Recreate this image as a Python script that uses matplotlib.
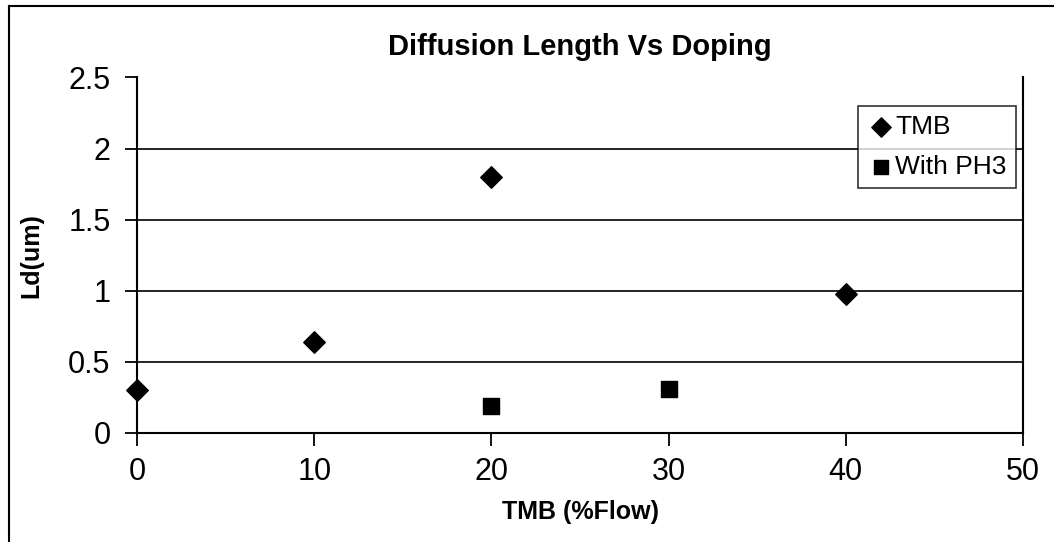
import matplotlib
matplotlib.use("Agg")
import matplotlib.pyplot as plt
from matplotlib.lines import Line2D

plt.rcParams['font.family'] = ['Liberation Sans', 'DejaVu Sans']

tmb_x = [0, 10, 20, 40]
tmb_y = [0.30, 0.64, 1.80, 0.98]
ph3_x = [20, 30]
ph3_y = [0.19, 0.31]

x_ticks = [0, 10, 20, 30, 40, 50]
y_ticks = [0, 0.5, 1, 1.5, 2, 2.5]
y_tick_labels = ['0', '0.5', '1', '1.5', '2', '2.5']

fig = plt.figure(figsize=(10.54, 5.42), dpi=100)
ax = fig.add_axes([137/1054, 1 - 433/542, (1023 - 137)/1054, (433 - 77.5)/542])

ax.scatter(tmb_x, tmb_y, marker='D', s=120, color='black', label='TMB', zorder=3, clip_on=False)
ax.scatter(ph3_x, ph3_y, marker='s', s=130, color='black', label='With PH3', zorder=3, clip_on=False)

ax.set_xlim(0, 50)
ax.set_ylim(0, 2.5)
ax.set_xticks(x_ticks)
ax.set_xticklabels([str(v) for v in x_ticks])
ax.set_yticks(y_ticks)
ax.set_yticklabels(y_tick_labels)
ax.yaxis.grid(True, color='black', linewidth=1.2)
ax.set_axisbelow(True)

ax.spines['top'].set_visible(False)
for s in ['left', 'right', 'bottom']:
    ax.spines[s].set_linewidth(1.5)
    ax.spines[s].set_color('black')

ax.tick_params(axis='both', direction='out', length=9, width=1.3, labelsize=22, colors='black')
ax.tick_params(axis='x', pad=8)
ax.tick_params(axis='y', pad=10)
ax.set_title('Diffusion Length Vs Doping', fontsize=21, fontweight='bold', pad=16)
ax.set_xlabel('TMB (%Flow)', fontsize=18, fontweight='bold', labelpad=10)
ax.set_ylabel('Ld(um)', fontsize=18, fontweight='bold', labelpad=18)

leg = ax.legend(loc='upper right', bbox_to_anchor=(0.992, 0.92), frameon=True, fancybox=False,
                edgecolor='black', fontsize=19, handletextpad=0.05, borderpad=0.35,
                labelspacing=0.6, handlelength=1.0, borderaxespad=0.0, markerscale=0.9)
leg.get_frame().set_linewidth(1.2)

# outer chart border (left and top edges)
fig.add_artist(Line2D([9/1054, 9/1054], [0, 1 - 6/542], color='black', linewidth=1.5))
fig.add_artist(Line2D([9/1054, 1], [1 - 6/542, 1 - 6/542], color='black', linewidth=1.5))

fig.savefig('out.png', dpi=100)
